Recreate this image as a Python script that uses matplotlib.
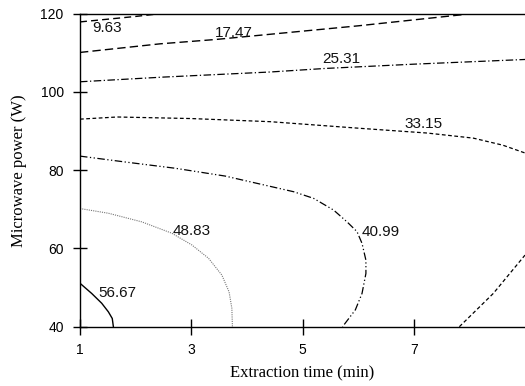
import matplotlib
matplotlib.use('Agg')
import matplotlib.pyplot as plt

# contour lines (extraction time, microwave power)
c963_x = [1.0, 1.5, 2.0, 2.44]
c963_y = [117.9, 118.6, 119.3, 120.0]

c1747_x = [1.0, 2.44, 3.43, 4.24, 6.0, 8.04]
c1747_y = [110.1, 112.3, 113.4, 114.5, 116.9, 120.0]

c2531_x = [1.0, 2.5, 4.42, 5.4, 7.0, 9.0]
c2531_y = [102.6, 103.8, 105.1, 106.0, 107.1, 108.3]

c3315_x = [1.0, 1.67, 3.0, 4.42, 6.04, 7.24, 8.07, 8.6, 9.0]
c3315_y = [93.05, 93.6, 93.2, 92.4, 90.7, 89.5, 88.2, 86.4, 84.4]

c4099_x = [1.0, 1.81, 2.71, 3.61, 4.24, 4.84, 5.20, 5.56, 5.80, 5.98,
           6.07, 6.14, 6.14, 6.07, 5.95, 5.72]
c4099_y = [83.6, 82.1, 80.5, 78.5, 76.45, 74.5, 72.8, 69.8, 66.8, 64.3,
           61.3, 57.0, 53.6, 48.5, 44.3, 40.0]

c4883_x = [1.0, 1.51, 2.11, 2.65, 3.01, 3.31, 3.55, 3.68, 3.73, 3.74]
c4883_y = [70.2, 69.0, 66.8, 63.9, 60.9, 57.5, 53.2, 48.9, 44.7, 40.0]

c5667_x = [1.0, 1.21, 1.39, 1.51, 1.58, 1.60]
c5667_y = [51.1, 48.5, 46.0, 43.8, 42.1, 40.0]

c_br_x = [7.82, 8.43, 9.0]
c_br_y = [40.0, 48.5, 58.3]

labels = ['9.63', '17.47', '25.31', '33.15', '40.99', '48.83', '56.67']
label_x = [1.49, 3.77, 5.69, 7.17, 6.40, 3.0, 1.68]
label_y = [116.3, 115.1, 108.3, 91.9, 64.3, 64.5, 48.7]

xticks = [1, 3, 5, 7]
yticks = [40, 60, 80, 100, 120]

fig = plt.figure(figsize=(5.25, 3.86), dpi=100)
ax = fig.add_axes([80/525, 1 - 326.7/386, 1 - 80/525, (326.7 - 13.7)/386])

ax.plot(c963_x, c963_y, color='black', lw=1.0, linestyle=(0, (5, 3)))
ax.plot(c1747_x, c1747_y, color='black', lw=1.0, linestyle=(0, (6, 3)))
ax.plot(c2531_x, c2531_y, color='black', lw=0.9, linestyle=(0, (6, 2, 1, 2)))
ax.plot(c3315_x, c3315_y, color='black', lw=0.9, linestyle=(0, (3, 2)))
ax.plot(c4099_x, c4099_y, color='black', lw=0.9, linestyle=(0, (6, 2, 1, 2, 1, 2)))
ax.plot(c4883_x, c4883_y, color='#777777', lw=0.8, linestyle=(0, (1, 1)))
ax.plot(c5667_x, c5667_y, color='black', lw=1.0, linestyle='-')
ax.plot(c_br_x, c_br_y, color='black', lw=0.9, linestyle=(0, (3, 2)))

for t, x, y in zip(labels, label_x, label_y):
    ax.text(x, y, t, ha='center', va='center', fontsize=11,
            family='Liberation Sans', color='#111111')

ax.set_xlim(1, 9.0)
ax.set_ylim(40, 120)
ax.set_xticks(xticks)
ax.set_yticks(yticks)
ax.spines['right'].set_visible(False)
for s in ['left', 'bottom', 'top']:
    ax.spines[s].set_linewidth(1.0)

ax.tick_params(axis='x', direction='inout', length=12, width=1.0, pad=6)
ax.tick_params(axis='y', direction='inout', length=9.5, width=1.0, pad=7)
for lab in ax.get_xticklabels() + ax.get_yticklabels():
    lab.set_family('Liberation Sans')
    lab.set_fontsize(10)

ax.set_xlabel('Extraction time (min)', family='Liberation Serif', fontsize=12, labelpad=6)
ax.set_ylabel('Microwave power (W)', family='Liberation Serif', fontsize=12, labelpad=10)

fig.savefig('out.png', dpi=100)
